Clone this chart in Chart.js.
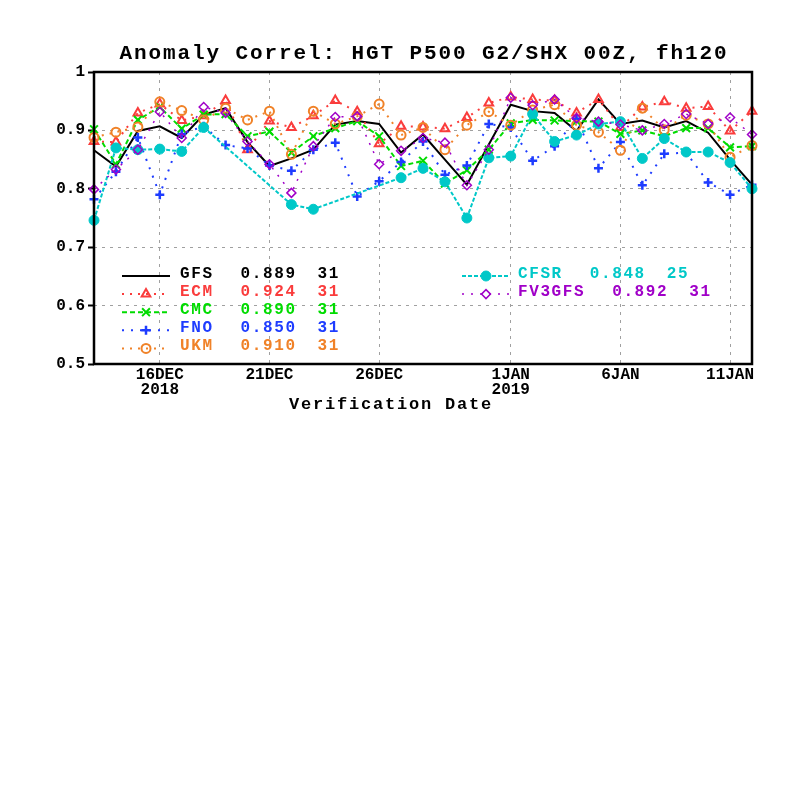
<!DOCTYPE html>
<html>
<head>
<meta charset="utf-8">
<title>Anomaly Correl: HGT P500 G2/SHX 00Z, fh120</title>
<script src="https://cdn.jsdelivr.net/npm/chart.js@4.4.1/dist/chart.umd.min.js"></script>
<style>
  html, body { margin: 0; padding: 0; background: #fff; }
  canvas { display: block; }
</style>
</head>
<body>
<canvas id="chart" width="800" height="800"></canvas>
<script>
// dates de verification (13 dec 2018 -> 12 jan 2019)
const dates = ['13DEC','14DEC','15DEC','16DEC','17DEC','18DEC','19DEC','20DEC','21DEC','22DEC',
  '23DEC','24DEC','25DEC','26DEC','27DEC','28DEC','29DEC','30DEC','31DEC','1JAN',
  '2JAN','3JAN','4JAN','5JAN','6JAN','7JAN','8JAN','9JAN','10JAN','11JAN','12JAN'];
// dates qui ont un label + une ligne de grille
const tickDates = ['16DEC','21DEC','26DEC','1JAN','6JAN','11JAN'];
const yearDates = ['16DEC','1JAN'];
const years = ['2018','2019'];
const yTicks = [0.5, 0.6, 0.7, 0.8, 0.9, 1];

const titleText = 'Anomaly Correl: HGT P500 G2/SHX 00Z, fh120';
const xTitle = 'Verification Date';

// valeurs
const gfs = [0.866,0.838,0.899,0.907,0.887,0.927,0.938,0.880,0.839,0.852,0.867,0.910,0.916,0.911,0.862,0.893,
  0.850,0.807,0.876,0.944,0.933,0.930,0.899,0.953,0.911,0.917,0.905,0.916,0.896,0.850,0.807];
const ecm = [0.881,0.880,0.930,0.945,0.917,0.925,0.951,0.867,0.916,0.905,0.925,0.951,0.932,0.877,0.907,0.906,
  0.903,0.922,0.947,0.957,0.953,0.951,0.930,0.953,0.905,0.940,0.949,0.938,0.941,0.899,0.933];
const cmc = [0.902,0.842,0.918,0.940,0.903,0.927,0.928,0.890,0.898,0.862,0.890,0.904,0.916,0.890,0.839,0.848,
  0.809,0.832,0.867,0.912,0.918,0.917,0.916,0.915,0.894,0.900,0.890,0.904,0.904,0.871,0.873];
const fno = [0.782,0.829,0.888,0.790,0.894,0.907,0.875,0.869,0.840,0.831,0.867,0.879,0.787,0.813,0.846,0.881,
  0.824,0.840,0.911,0.905,0.848,0.873,0.920,0.835,0.880,0.806,0.860,0.862,0.811,0.790,0.807];
const ukm = [0.888,0.897,0.906,0.949,0.934,0.918,0.938,0.918,0.933,0.859,0.933,0.911,0.924,0.945,0.892,0.905,
  0.867,0.909,0.932,0.909,0.935,0.944,0.909,0.897,0.866,0.938,0.901,0.926,0.911,0.854,0.874];
const cfsr = [0.746,0.870,0.867,0.868,0.864,0.905,null,null,null,0.773,0.765,null,null,null,0.819,0.835,
  0.812,0.750,0.853,0.856,0.928,0.881,0.892,0.911,0.915,0.852,0.886,0.863,0.863,0.845,0.800];
const fv3gfs = [0.799,0.833,0.867,0.932,0.887,0.940,0.930,0.881,0.842,0.793,0.873,0.923,0.924,0.842,0.865,0.887,
  0.879,0.806,0.867,0.956,0.943,0.953,0.921,0.915,0.910,0.900,0.911,0.928,0.911,0.922,0.893];

// texte de la legende
const seriesNames = ['GFS','ECM','CMC','FNO','UKM','CFSR','FV3GFS'];
const seriesScores = ['0.889','0.924','0.890','0.850','0.910','0.848','0.892'];
const seriesCounts = ['31','31','31','31','31','25','31'];

const FONT = '"Liberation Mono", "DejaVu Sans Mono", monospace';

// style GrADS pour chaque serie
function serie(label, data, color, dash, width, pointStyle, radius, filled, pw) {
  return {
    label: label, data: data,
    borderColor: color, borderWidth: width, borderDash: dash,
    pointStyle: pointStyle, pointRadius: radius,
    pointBorderColor: color, pointBorderWidth: pw,
    pointBackgroundColor: filled ? color : 'rgba(0,0,0,0)',
    tension: 0, spanGaps: true
  };
}

const datasets = [
  serie('GFS', gfs, '#000000', [], 2, false, 0, false, 0),
  serie('ECM', ecm, 'rgb(250,60,60)', [2,6], 2, 'triangle', 5, false, 2),
  serie('CMC', cmc, 'rgb(0,220,0)', [5,3], 2, 'crossRot', 5.5, false, 2),
  serie('FNO', fno, 'rgb(30,60,255)', [2,7], 2, 'cross', 4.5, false, 2.5),
  serie('UKM', ukm, 'rgb(240,130,40)', [2,6], 2, 'circle', 4.5, false, 2),
  serie('CFSR', cfsr, 'rgb(0,200,200)', [4,2], 2, 'circle', 5, true, 1),
  serie('FV3GFS', fv3gfs, 'rgb(160,0,200)', [2,7], 1.5, 'rectRot', 4.5, false, 1.5)
];
// GrADS dessine dans l'ordre : la derniere serie est au dessus
datasets.forEach((d, i) => { d.order = datasets.length - i; });

// titre, cadre, titre de l'axe x et legende
const gradsText = {
  id: 'gradsText',
  afterDraw(chart) {
    const ctx = chart.ctx;
    const a = chart.chartArea;
    ctx.save();
    ctx.setLineDash([]);
    ctx.strokeStyle = '#000';
    ctx.lineWidth = 2.5;
    ctx.strokeRect(a.left, a.top, a.right - a.left, a.bottom - a.top);

    ctx.fillStyle = '#000';
    ctx.textBaseline = 'alphabetic';
    ctx.textAlign = 'center';
    ctx.letterSpacing = '1.9px';
    ctx.font = 'bold 21px ' + FONT;
    ctx.fillText(titleText, 424, 59);

    ctx.letterSpacing = '1.8px';
    ctx.font = 'bold 17px ' + FONT;
    ctx.fillText(xTitle, 391, 409);

    // legende : 5 lignes a gauche, 2 a droite
    ctx.textAlign = 'left';
    ctx.font = 'bold 16px ' + FONT;
    ctx.letterSpacing = '1.6px';
    for (let i = 0; i < datasets.length; i++) {
      const d = datasets[i];
      const left = i < 5;
      const row = left ? i : i - 5;
      const base = 277.5 + row * 18.1;
      const x0 = left ? 122 : 462;
      const x1 = x0 + 48;
      const mx = (x0 + x1) / 2;
      const my = base - 1.5;
      const tx = left ? 180 : 518;

      ctx.save();
      ctx.strokeStyle = d.borderColor;
      ctx.lineWidth = d.borderWidth;
      ctx.setLineDash(d.borderDash);
      ctx.beginPath();
      ctx.moveTo(x0, my);
      ctx.lineTo(x1, my);
      ctx.stroke();
      if (d.pointStyle) {
        ctx.setLineDash([]);
        ctx.fillStyle = d.pointBackgroundColor;
        ctx.strokeStyle = d.pointBorderColor;
        ctx.lineWidth = d.pointBorderWidth;
        Chart.helpers.drawPoint(ctx, {pointStyle: d.pointStyle, radius: d.pointRadius, rotation: 0, borderWidth: d.pointBorderWidth}, mx, my);
      }
      ctx.restore();

      ctx.fillStyle = d.borderColor;
      ctx.fillText(seriesNames[i], tx, base);
      const vx = tx + ctx.measureText(seriesNames[i]).width + 27;
      ctx.fillText(seriesScores[i], vx, base);
      const cx = vx + ctx.measureText(seriesScores[i]).width + 21;
      ctx.fillText(seriesCounts[i], cx, base);
    }
    ctx.restore();
  }
};

const tickFont = { family: FONT, size: 16, weight: 'bold', lineHeight: 0.95 };

new Chart(document.getElementById('chart'), {
  type: 'line',
  data: { labels: dates, datasets: datasets },
  plugins: [gradsText],
  options: {
    responsive: false,
    animation: false,
    layout: { padding: { top: 72, right: 48, left: 0, bottom: 0 } },
    plugins: { legend: { display: false }, tooltip: { enabled: false }, title: { display: false } },
    scales: {
      x: {
        type: 'category',
        offset: false,
        afterFit: s => { s.height = 436; },
        ticks: {
          autoSkip: false, maxRotation: 0, minRotation: 0, padding: 3,
          color: '#000', font: tickFont,
          callback: function(v, i) {
            const lab = dates[i];
            if (tickDates.indexOf(lab) < 0) return '';
            const k = yearDates.indexOf(lab);
            return k >= 0 ? [lab, years[k]] : lab;
          }
        },
        grid: {
          drawTicks: false, lineWidth: 1,
          color: c => (c.tick && tickDates.indexOf(dates[c.tick.value]) >= 0) ? '#a0a0a0' : 'rgba(0,0,0,0)'
        },
        border: { display: false, dash: [3,5] }
      },
      y: {
        min: 0.5, max: 1,
        afterFit: s => { s.width = 94; },
        afterBuildTicks: s => { s.ticks = yTicks.map(v => ({ value: v })); },
        ticks: {
          padding: 3, color: '#000', font: tickFont,
          callback: v => v === 1 ? '1' : v.toFixed(1)
        },
        grid: {
          color: '#a0a0a0', lineWidth: 1,
          tickColor: '#000', tickLength: 6, tickWidth: 2, tickBorderDash: [6, 0]
        },
        border: { display: false, dash: [3,5] }
      }
    }
  }
});
</script>
</body>
</html>
